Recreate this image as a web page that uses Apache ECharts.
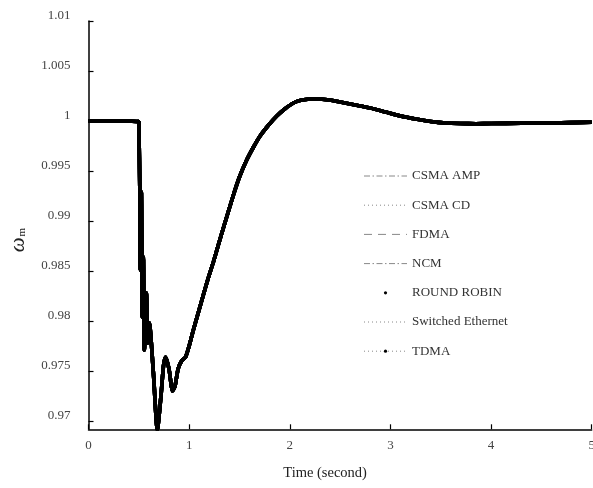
<!DOCTYPE html>
<html>
<head>
<meta charset="utf-8">
<script src="https://cdn.jsdelivr.net/npm/echarts@6/dist/echarts.min.js"></script>
<style>
  html, body { margin: 0; padding: 0; background: #fff; }
  #chart { width: 593px; height: 488px; }
</style>
</head>
<body>
<div id="chart"></div>
<script>
// all seven protocols give (visually) the same rotor speed response
const protocols = ["CSMA AMP", "CSMA CD", "FDMA", "NCM", "ROUND ROBIN", "Switched Ethernet", "TDMA"];
const time = [
  0, 0.1, 0.2, 0.3, 0.4, 0.5, 0.505,
  0.51, 0.515, 0.525, 0.535, 0.545, 0.555, 0.575, 0.588, 0.605, 0.645, 0.684,
  0.72, 0.745, 0.765, 0.8, 0.835, 0.86, 0.89, 0.925, 0.965, 1.0, 1.042, 1.09,
  1.141, 1.19, 1.241, 1.29, 1.34, 1.44, 1.5, 1.572, 1.64, 1.705, 1.79, 1.871,
  1.95, 2.036, 2.12, 2.25, 2.4, 2.5, 2.65, 2.8, 2.95, 3.1, 3.25, 3.4, 3.55,
  3.7, 3.85, 4.0, 4.3, 4.6, 5.0
];
const omega = [
  1.0, 1.00003, 1.00002, 1.0, 0.99998, 0.99995, 0.99995,
  0.993, 0.9851, 0.9929, 0.9804, 0.9864, 0.9771, 0.9828, 0.9778, 0.9798, 0.9748, 0.9691,
  0.9725, 0.9755, 0.9764, 0.9752, 0.973, 0.9735, 0.9752, 0.976, 0.9764, 0.9775, 0.9791, 0.9808,
  0.9826, 0.9843, 0.9859, 0.9876, 0.9893, 0.9926, 0.9944, 0.9961, 0.9974, 0.9985, 0.9996, 1.0005,
  1.0012, 1.0018, 1.0021, 1.0022, 1.0021, 1.0019, 1.0016, 1.0013, 1.0009, 1.0005, 1.0002, 0.99995, 0.9998,
  0.99975, 0.99973, 0.99975, 0.99978, 0.9998, 0.99988
];
const yTicks = [0.97, 0.975, 0.98, 0.985, 0.99, 0.995, 1, 1.005, 1.01];
const legendDash = {
  "CSMA AMP": [6, 2.5, 1.5, 2.5],
  "CSMA CD": [1, 3],
  "FDMA": [8, 6],
  "NCM": [6, 2.5, 1.5, 2.5],
  "ROUND ROBIN": null,
  "Switched Ethernet": [1, 3],
  "TDMA": [1, 3]
};
const withDot = ["ROUND ROBIN", "TDMA"];

const serif = "Liberation Serif";
const points = time.map((t, i) => [t, omega[i]]);

const chart = echarts.init(document.getElementById("chart"));
chart.setOption({
  animation: false,
  grid: { left: 88.5, right: 1.3, top: 21, bottom: 58.7, outerBoundsMode: "none", containLabel: false },
  legend: {
    orient: "vertical",
    left: 358,
    top: 160,
    itemWidth: 43,
    itemHeight: 4,
    itemGap: 7.2,
    textStyle: { fontFamily: serif, fontSize: 13, color: "#333", lineHeight: 14, padding: [0, 0, 8, 0] },
    data: protocols.map((p) => ({
      name: p,
      lineStyle: legendDash[p]
        ? { color: "#888", width: 1, type: legendDash[p], opacity: 1 }
        : { opacity: 0 },
      itemStyle: withDot.includes(p) ? { color: "#000", opacity: 1 } : { opacity: 0 }
    }))
  },
  xAxis: {
    type: "value",
    min: 0,
    max: 5,
    interval: 1,
    name: "Time (second)",
    nameLocation: "middle",
    nameGap: 36,
    nameTextStyle: { fontFamily: serif, fontSize: 14.5, color: "#222", padding: [0, 30, 0, 0] },
    axisLine: { show: true, lineStyle: { color: "#000", width: 1.5 } },
    axisTick: { show: true, inside: true, length: 5, lineStyle: { color: "#000", width: 1.2 } },
    axisLabel: { fontFamily: serif, fontSize: 13, color: "#444", margin: 10 },
    splitLine: { show: false }
  },
  yAxis: {
    type: "value",
    min: 0.96917,
    max: 1.01,
    name: "{w|ω}{m|m}",
    nameLocation: "middle",
    nameRotate: 90,
    nameGap: 60,
    nameTextStyle: {
      padding: [0, 30, 0, 0],
      rich: {
        w: { fontFamily: serif, fontStyle: "italic", fontSize: 21, color: "#222" },
        m: { fontFamily: serif, fontSize: 11, color: "#222", padding: [8, 0, 0, 1] }
      }
    },
    axisLine: { show: true, lineStyle: { color: "#000", width: 1.5 } },
    axisTick: { show: true, inside: true, length: 5, customValues: yTicks, lineStyle: { color: "#000", width: 1.2 } },
    axisLabel: {
      fontFamily: serif, fontSize: 13, color: "#444", margin: 18,
      verticalAlign: "bottom", lineHeight: 10,
      customValues: yTicks
    },
    splitLine: { show: false }
  },
  series: protocols.map((p) => ({
    name: p,
    type: "line",
    data: points,
    symbol: "circle",
    showSymbol: false,
    smooth: 0.2,
    lineStyle: { color: "#000", width: 3.6 },
    itemStyle: { color: "#000" }
  }))
});
</script>
</body>
</html>
